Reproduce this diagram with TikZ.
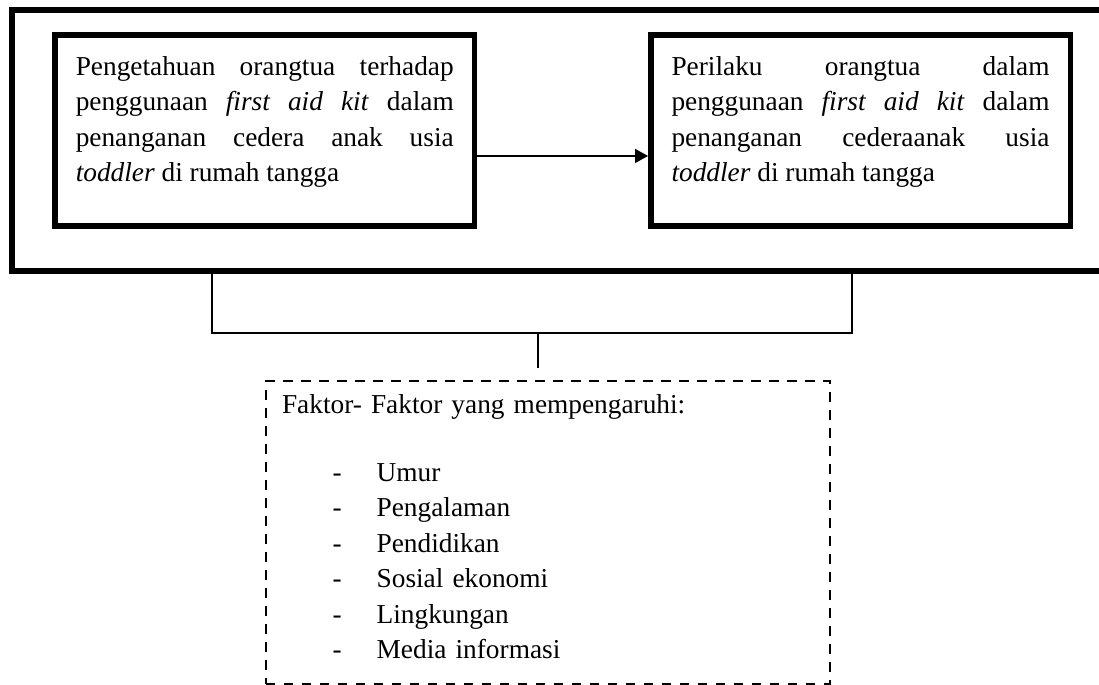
\documentclass[tikz,border=0pt]{standalone}
\usepackage{fontspec}
\setmainfont{Liberation Serif}
\usetikzlibrary{positioning,arrows.meta}

\begin{document}
\begin{tikzpicture}[x=0.75pt, y=-0.75pt, thick,
    teks/.style = {font=\fontsize{20.5}{26.6}\selectfont},
    bingkai/.style = {draw, line width=4.1pt, minimum width=827pt, minimum height=195.75pt, inner sep=0pt},
    kotak/.style = {teks, draw, line width=4.1pt, minimum width=314.6pt, minimum height=143.3pt, text width=283.5pt, align=justify, inner sep=0pt},
    putus/.style = {teks, draw, line width=1.5pt, dash pattern=on 7pt off 6.5pt, minimum width=423pt, minimum height=226.9pt, text width=399pt, align=left, inner sep=0pt},
    garis/.style = {line width=1.2pt},
    panah/.style = {line width=1pt, -{Triangle[length=9.75pt, width=10.5pt]}}]
    \useasboundingbox (0,0) rectangle (1099,685);
    \tolerance=10000 \hyphenpenalty=10000
    \newcommand{\ganjal}[1]{\rule[-#1]{0pt}{#1}}
    \newcommand{\butir}[1]{\hspace*{38pt}\makebox[33pt][l]{-}#1}
    \node[bingkai] (luar) at (563.5,140.5) {};
    \node[kotak] (kiri) at (264.75,130.5) {Pengetahuan orangtua terhadap\linebreak penggunaan \textit{first aid kit} dalam\linebreak penanganan cedera anak usia\linebreak \textit{toddler} di rumah tangga\ganjal{17pt}};
    \node[kotak] (kanan) at (860.5,130.5) {Perilaku orangtua dalam\linebreak penggunaan \textit{first aid kit} dalam\linebreak penanganan cederaanak usia\linebreak \textit{toddler} di rumah tangga\ganjal{17pt}};
    \node[putus] (faktor) at (548,532.25) {Faktor- Faktor yang mempengaruhi:\\[24pt]
        \butir{Umur}\\
        \butir{Pengalaman}\\
        \butir{Pendidikan}\\
        \butir{Sosial ekonomi}\\
        \butir{Lingkungan}\\
        \butir{Media informasi}\ganjal{8.25pt}};
    \coordinate (ka) at (212,333);
    \coordinate (kb) at (852,333);
    \coordinate (tengah) at (538,333);
    \coordinate (ujung) at (538,368);
    \draw[panah] ([yshift=-19.1pt]kiri.east) -- ([yshift=-19.1pt]kanan.west);
    \draw[garis] (luar.south -| ka) -- (ka) -- (kb) -- (luar.south -| kb);
    \draw[garis] (tengah) -- (ujung);
\end{tikzpicture}
\end{document}
